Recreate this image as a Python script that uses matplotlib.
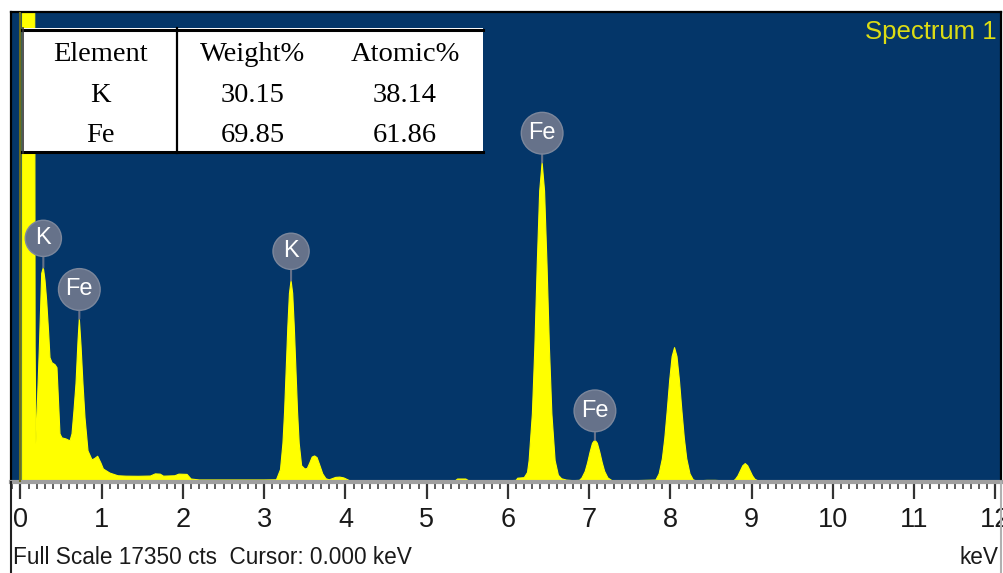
import matplotlib
matplotlib.use("Agg")
import matplotlib.pyplot as plt
from matplotlib.patches import Rectangle
from matplotlib.lines import Line2D
from matplotlib.ticker import MultipleLocator

# spectrum (keV, counts)
energy_kev = [
    0.000, 0.020, 0.025, 0.170, 0.180, 0.190, 0.231, 0.261, 0.281, 0.302,
    0.322, 0.347, 0.363, 0.388, 0.425, 0.449, 0.468, 0.486, 0.511, 0.560,
    0.609, 0.634, 0.658, 0.683, 0.708, 0.724, 0.745, 0.769, 0.794, 0.831,
    0.880, 0.910, 0.950, 0.990, 1.020, 1.100, 1.200, 1.300, 1.450, 1.600,
    1.660, 1.720, 1.760, 1.900, 1.950, 2.050, 2.100, 2.200, 2.600, 3.000,
    3.150, 3.200, 3.230, 3.250, 3.270, 3.290, 3.310, 3.330, 3.350, 3.370,
    3.390, 3.410, 3.430, 3.460, 3.500, 3.530, 3.560, 3.590, 3.620, 3.650,
    3.680, 3.720, 3.760, 3.800, 3.880, 3.930, 3.980, 4.050, 4.500, 5.000,
    5.350, 5.380, 5.480, 5.520, 6.000, 6.100, 6.120, 6.200, 6.240, 6.260,
    6.300, 6.330, 6.360, 6.390, 6.420, 6.450, 6.480, 6.510, 6.540, 6.580,
    6.620, 6.660, 6.720, 6.800, 6.880, 6.910, 6.950, 6.980, 7.010, 7.040,
    7.070, 7.100, 7.130, 7.160, 7.190, 7.230, 7.280, 7.500, 7.820, 7.860,
    7.900, 7.930, 7.960, 7.990, 8.020, 8.050, 8.080, 8.110, 8.140, 8.170,
    8.200, 8.240, 8.280, 8.320, 8.450, 8.550, 8.650, 8.780, 8.800, 8.830,
    8.860, 8.890, 8.920, 8.950, 8.980, 9.010, 9.040, 9.080, 9.100, 12.100,
]
counts = [
    0, 0, 30000, 30000, 5000, 1400, 4850, 7700, 7918, 7437,
    6697, 5476, 4588, 4403, 4330, 4218, 3000, 1776, 1628, 1590,
    1517, 1776, 2627, 3626, 5217, 6031, 5032, 3626, 2368, 1147,
    820, 860, 950, 700, 480, 330, 230, 215, 210, 220,
    300, 290, 215, 230, 290, 280, 110, 75, 75, 75,
    80, 460, 1430, 2580, 4100, 5710, 6960, 7440, 6960, 5710,
    4100, 2580, 1430, 600, 480, 500, 700, 920, 962, 900,
    650, 300, 120, 80, 170, 180, 150, 50, 45, 40,
    40, 110, 110, 40, 45, 60, 140, 160, 350, 790,
    2520, 4940, 8040, 10740, 11800, 10740, 8040, 4940, 2520, 790,
    250, 120, 70, 50, 60, 150, 390, 710, 1100, 1430,
    1550, 1430, 1100, 710, 390, 150, 50, 45, 70, 300,
    860, 1620, 2640, 3750, 4630, 4960, 4630, 3750, 2640, 1620,
    860, 300, 80, 40, 60, 60, 45, 50, 100, 225,
    415, 600, 680, 600, 415, 225, 100, 40, 0, 0,
]

peak_names = ["K", "Fe", "K", "Fe", "Fe"]
peak_kev = [0.281, 0.724, 3.33, 6.42, 7.07]
peak_cts = [7918, 6031, 7440, 11800, 1550]

table_header = ["Element", "Weight%", "Atomic%"]
table_rows = [["K", "30.15", "38.14"],
              ["Fe", "69.85", "61.86"]]

full_scale = 17350
cursor_kev = 0.0

W, H = 1004, 573
BLUE = "#043669"
YELLOW = "#ffff00"
GREY = "#66728a"


def fx(px):
    return px / W


def fy(py):
    return 1 - py / H


plt.rcParams["font.family"] = ["Liberation Sans", "DejaVu Sans"]

fig = plt.figure(figsize=(W / 100, H / 100), dpi=100)
ax = fig.add_axes([fx(11), fy(482), fx(1001) - fx(11), fy(12) - fy(482)])
ax.set_facecolor(BLUE)

ax.fill_between(energy_kev, counts, 0, color=YELLOW, lw=0, zorder=2)
ax.plot(energy_kev, counts, color=YELLOW, lw=0.8, zorder=2)
ax.axvline(cursor_kev, color="#6e6e1c", lw=1.5, zorder=3)

ax.set_xlim((11 - 20.5) / 81.25, (1001 - 20.5) / 81.25)
ax.set_ylim(0, full_scale)
ax.set_yticks([])
ax.set_xticks(range(13))
ax.xaxis.set_minor_locator(MultipleLocator(0.1))
ax.tick_params(axis="x", which="major", length=12, width=1.6, color="#333333",
               pad=6, labelsize=19.5, labelcolor="#1a1a1a")
ax.tick_params(axis="x", which="minor", length=5, width=1.1, color="#333333")

for side in ["top", "left", "right"]:
    ax.spines[side].set_color("black")
    ax.spines[side].set_linewidth(1.6)
ax.spines["bottom"].set_color("#a0a0a0")
ax.spines["bottom"].set_linewidth(3)

# peak markers
for name, e, c in zip(peak_names, peak_kev, peak_cts):
    ax.annotate(name, xy=(e, c), xytext=(0, 21), textcoords="offset points",
                ha="center", va="center", color="white", fontsize=17,
                bbox=dict(boxstyle="circle,pad=0.3", fc=GREY, ec="#7c879c", lw=1),
                arrowprops=dict(arrowstyle="-", color=GREY, lw=1.5,
                                shrinkA=0, shrinkB=0),
                zorder=4)

fig.text(fx(997), fy(32), "Spectrum 1", ha="right", va="center",
         color="#dcdc14", fontsize=18.5)

# result table
fig.add_artist(Rectangle((fx(22), fy(153)), fx(483) - fx(22), fy(28) - fy(153),
                         transform=fig.transFigure, fc="white", ec="none", zorder=5))
for yy in [29.5, 151.5]:
    fig.add_artist(Line2D([fx(22), fx(483)], [fy(yy), fy(yy)], color="black",
                          lw=2.2, zorder=6))
fig.add_artist(Line2D([fx(23), fx(23)], [fy(28), fy(153)], color="#333333",
                      lw=1.2, zorder=6))
fig.add_artist(Line2D([fx(177), fx(177)], [fy(28), fy(153)], color="black",
                      lw=1.6, zorder=6))

col_x = [100, 253, 405]
row_base = [61, 102, 142]
for r, row in enumerate([table_header] + table_rows):
    for cx, txt in zip(col_x, row):
        fig.text(fx(cx), fy(row_base[r]), txt, ha="center", va="baseline",
                 fontsize=20.5, family=["Liberation Serif", "DejaVu Serif"],
                 zorder=7)

# frame edges below the plot
fig.add_artist(Line2D([fx(11), fx(11)], [fy(482), 0], color="#222222", lw=1.5))
fig.add_artist(Line2D([fx(1001), fx(1001)], [fy(482), 0], color="#b0b0b0", lw=1.5))

fig.text(fx(13), fy(557), f"Full Scale {full_scale} cts  Cursor: {cursor_kev:.3f} keV",
         ha="left", va="center", fontsize=16.3, color="#1a1a1a")
fig.text(fx(999), fy(557), "keV", ha="right", va="center", fontsize=16.3,
         color="#1a1a1a")

fig.savefig("out.png", dpi=100, facecolor="white")
